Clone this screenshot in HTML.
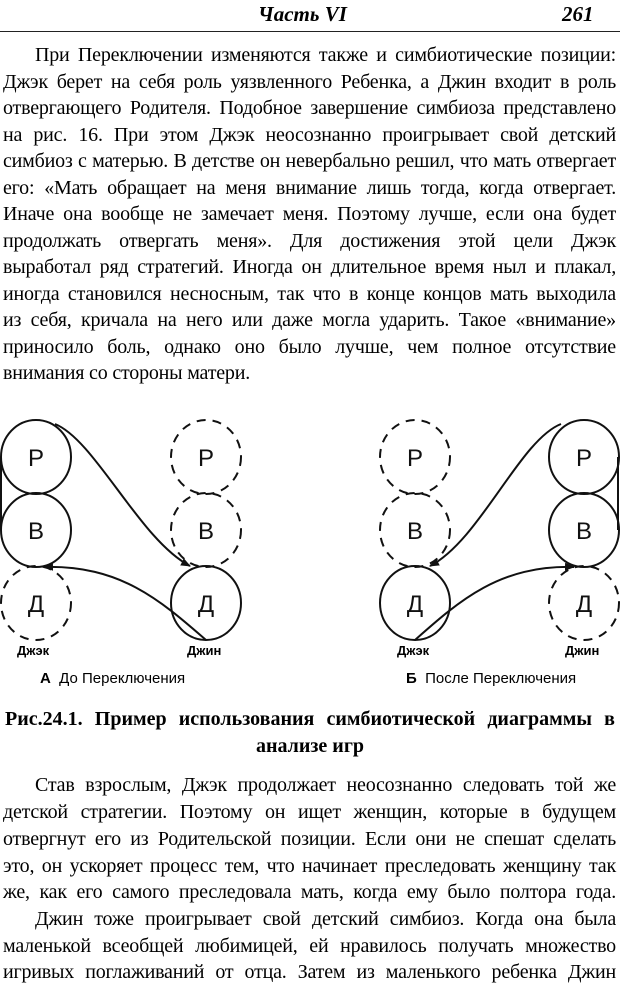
<!DOCTYPE html>
<html><head><meta charset="utf-8"><style>
body{margin:0;width:620px;height:986px;background:#fff;position:relative;overflow:hidden;font-family:"Liberation Serif",serif;color:#000}
.l{position:absolute;left:3px;width:613px;font-size:20px;line-height:20px;text-align:justify;text-align-last:justify;white-space:nowrap;letter-spacing:-0.2px}
.e{text-align-last:left}
.i{left:35px;width:581px}
.hdr{position:absolute;top:2px;font-style:italic;font-size:21px;font-weight:bold}
.lab{position:absolute;font-family:"Liberation Sans",sans-serif;font-size:13px;font-weight:bold}
.cap{position:absolute;font-family:"Liberation Sans",sans-serif;font-size:15px}
.b{position:absolute;font-weight:bold;font-size:20px;white-space:nowrap}
</style></head><body>
<div class="hdr" style="left:258px">Часть VI</div>
<div class="hdr" style="left:562px">261</div>
<div style="position:absolute;left:0;top:31px;width:620px;height:1px;background:#222"></div>
<div class="l i" style="top:45px">При Переключении изменяются также и симбиотические позиции:</div>
<div class="l" style="top:72px">Джэк берет на себя роль уязвленного Ребенка, а Джин входит в роль</div>
<div class="l" style="top:98px">отвергающего Родителя. Подобное завершение симбиоза представлено</div>
<div class="l" style="top:125px">на рис. 16. При этом Джэк неосознанно проигрывает свой детский</div>
<div class="l" style="top:151px">симбиоз с матерью. В детстве он невербально решил, что мать отвергает</div>
<div class="l" style="top:178px">его: «Мать обращает на меня внимание лишь тогда, когда отвергает.</div>
<div class="l" style="top:204px">Иначе она вообще не замечает меня. Поэтому лучше, если она будет</div>
<div class="l" style="top:231px">продолжать отвергать меня». Для достижения этой цели Джэк</div>
<div class="l" style="top:257px">выработал ряд стратегий. Иногда он длительное время ныл и плакал,</div>
<div class="l" style="top:284px">иногда становился несносным, так что в конце концов мать выходила</div>
<div class="l" style="top:310px">из себя, кричала на него или даже могла ударить. Такое «внимание»</div>
<div class="l" style="top:337px">приносило боль, однако оно было лучше, чем полное отсутствие</div>
<div class="l e" style="top:363px">внимания со стороны матери.</div>

<svg style="position:absolute;left:0;top:400px" width="620" height="260" viewBox="0 400 620 260">
<defs><marker id="a" markerWidth="10" markerHeight="8" refX="9" refY="4" orient="auto" markerUnits="userSpaceOnUse"><path d="M0,0 L10,4 L0,8 z" fill="#111"/></marker></defs>
<g fill="none" stroke="#111" stroke-width="2">
<ellipse cx="36" cy="457" rx="35" ry="37"/>
<ellipse cx="36" cy="530" rx="35" ry="37"/>
<ellipse cx="36" cy="603" rx="35" ry="37" stroke-dasharray="9,7"/>
<ellipse cx="206" cy="457" rx="35" ry="37" stroke-dasharray="9,7"/>
<ellipse cx="206" cy="530" rx="35" ry="37" stroke-dasharray="9,7"/>
<ellipse cx="206" cy="603" rx="35" ry="37"/>
<line x1="1" y1="457" x2="1" y2="530"/>
<path d="M55,424 C95,440 140,540 190,566" marker-end="url(#a)"/>
<path d="M206,640 C160,600 120,565 44,567" marker-end="url(#a)"/>
<ellipse cx="415" cy="457" rx="35" ry="37" stroke-dasharray="9,7"/>
<ellipse cx="415" cy="530" rx="35" ry="37" stroke-dasharray="9,7"/>
<ellipse cx="415" cy="603" rx="35" ry="37"/>
<ellipse cx="584" cy="457" rx="35" ry="37"/>
<ellipse cx="584" cy="530" rx="35" ry="37"/>
<ellipse cx="584" cy="603" rx="35" ry="37" stroke-dasharray="9,7"/>
<line x1="618" y1="457" x2="618" y2="530"/>
<path d="M561,424 C520,440 480,540 430,566" marker-end="url(#a)"/>
<path d="M415,640 C460,600 500,565 574,567" marker-end="url(#a)"/>
</g>
<g font-family="Liberation Sans,sans-serif" font-size="24" text-anchor="middle" fill="#111">
<text x="36" y="466">Р</text><text x="36" y="539">В</text><text x="36" y="612">Д</text>
<text x="206" y="466">Р</text><text x="206" y="539">В</text><text x="206" y="612">Д</text>
<text x="415" y="466">Р</text><text x="415" y="539">В</text><text x="415" y="612">Д</text>
<text x="584" y="466">Р</text><text x="584" y="539">В</text><text x="584" y="612">Д</text>
</g>
</svg>
<div class="lab" style="left:17px;top:643px">Джэк</div>
<div class="lab" style="left:187px;top:643px">Джин</div>
<div class="lab" style="left:397px;top:643px">Джэк</div>
<div class="lab" style="left:565px;top:643px">Джин</div>
<div class="cap" style="left:40px;top:670px"><b>А</b>&nbsp; До Переключения</div>
<div class="cap" style="left:406px;top:670px"><b>Б</b>&nbsp; После Переключения</div>
<div class="b" style="left:5px;width:610px;top:708px;text-align:justify;text-align-last:justify">Рис.24.1. Пример использования симбиотической диаграммы в</div>
<div class="b" style="left:0;width:620px;text-align:center;top:735px">анализе игр</div>
<div class="l i" style="top:775px">Став взрослым, Джэк продолжает неосознанно следовать той же</div>
<div class="l" style="top:802px">детской стратегии. Поэтому он ищет женщин, которые в будущем</div>
<div class="l" style="top:829px">отвергнут его из Родительской позиции. Если они не спешат сделать</div>
<div class="l" style="top:856px">это, он ускоряет процесс тем, что начинает преследовать женщину так</div>
<div class="l" style="top:882px">же, как его самого преследовала мать, когда ему было полтора года.</div>
<div class="l i" style="top:909px">Джин тоже проигрывает свой детский симбиоз. Когда она была</div>
<div class="l" style="top:936px">маленькой всеобщей любимицей, ей нравилось получать множество</div>
<div class="l" style="top:962px">игривых поглаживаний от отца. Затем из маленького ребенка Джин</div>
</body></html>
